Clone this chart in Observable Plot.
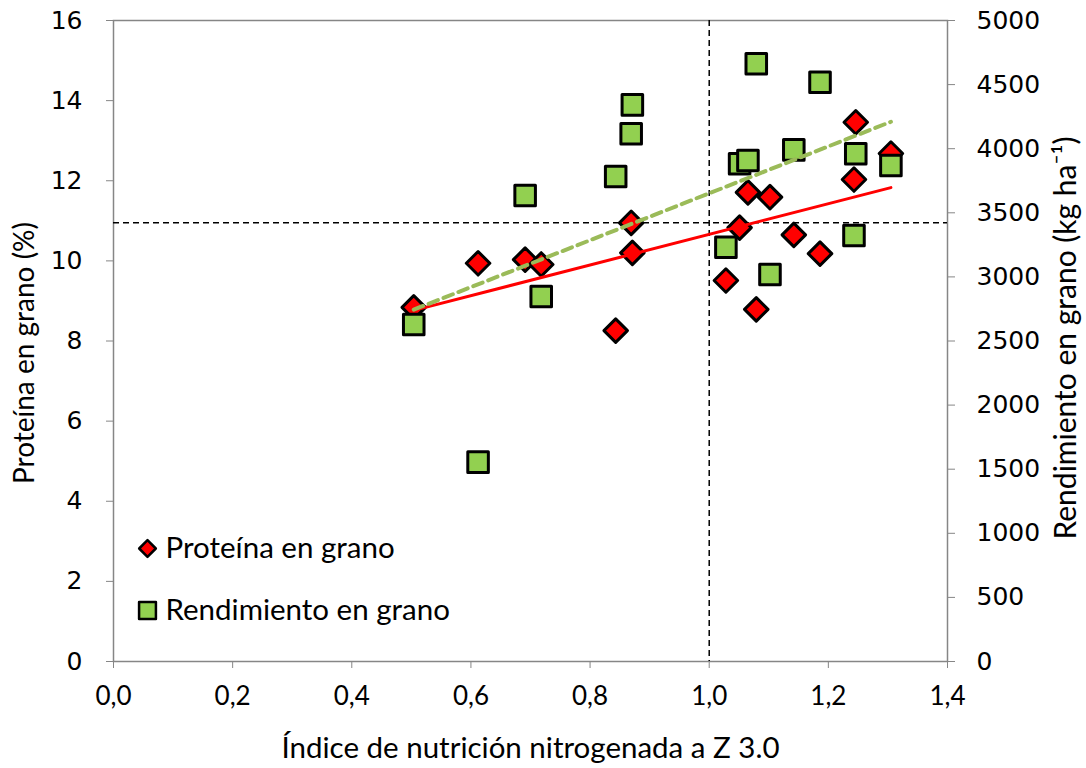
<!DOCTYPE html>
<html><head><meta charset="utf-8">
<script src="https://cdn.jsdelivr.net/npm/d3@7"></script>
<script src="https://cdn.jsdelivr.net/npm/@observablehq/plot@0.6"></script>
<style>body{margin:0;background:#fff} svg{display:block}</style>
</head><body><div id="chart"></div>
<script>
// Data
const nni = [0.504, 0.612, 0.691, 0.718, 0.843, 0.869, 0.871, 1.028, 1.051, 1.065, 1.079, 1.102, 1.142, 1.186, 1.243, 1.246, 1.305];
const protein = [8.84, 9.94, 10.03, 9.91, 8.26, 10.95, 10.20, 9.51, 10.83, 11.71, 8.79, 11.59, 10.65, 10.18, 12.03, 13.46, 12.68];
const yieldKg = [2629, 1555, 3635, 2847, 3783, 4116, 4342, 3232, 3882, 3908, 4662, 3019, 3991, 4519, 3323, 3960, 3869];
const xTicks = [0, 0.2, 0.4, 0.6, 0.8, 1.0, 1.2, 1.4];
const proteinTicks = [0, 2, 4, 6, 8, 10, 12, 14, 16];
const yieldTicks = [0, 500, 1000, 1500, 2000, 2500, 3000, 3500, 4000, 4500, 5000];
const nniThreshold = 1.0;
const proteinThreshold = 10.95;
const seriesNames = ["Proteína en grano", "Rendimiento en grano"];
const xTitle = "Índice de nutrición nitrogenada a Z 3.0";
const yLeftTitle = "Proteína en grano (%)";
const yRightTitle = "Rendimiento en grano (kg ha⁻¹)";

const proteinMax = 16, yieldMax = 5000;
const k = proteinMax / yieldMax; // maps yield onto the left scale
const rows = nni.map((x, i) => ({x, protein: protein[i], yieldScaled: yieldKg[i] * k}));
const comma = v => d3.format(".1f")(v).replace(".", ",");

const RED = "#FF0000", GREEN = "#92D050", TREND_GREEN = "#9BBB59", AXIS = "#868686";

const chart = Plot.plot({
  width: 1086,
  height: 768,
  marginLeft: 113,
  marginRight: 139,
  marginTop: 20,
  marginBottom: 107,
  style: {fontFamily: "Lato, sans-serif", background: "#fff", color: "#000"},
  x: {domain: [0, 1.4]},
  y: {domain: [0, proteinMax]},
  marks: [
    Plot.frame({stroke: AXIS, strokeWidth: 1.5}),
    Plot.ruleY([proteinThreshold], {stroke: "#000", strokeWidth: 1.5, strokeDasharray: "6,4"}),
    Plot.ruleX([nniThreshold], {stroke: "#000", strokeWidth: 1.5, strokeDasharray: "6,4"}),
    Plot.dot(rows, {x: "x", y: "protein", symbol: "diamond2", r: 10.6, fill: RED, stroke: "#000", strokeWidth: 3, strokeLinejoin: "round"}),
    Plot.dot(rows, {x: "x", y: "yieldScaled", symbol: "square", r: 11.6, fill: GREEN, stroke: "#000", strokeWidth: 3, strokeLinejoin: "round"}),
    Plot.linearRegressionY(rows, {x: "x", y: "protein", stroke: RED, strokeWidth: 3, ci: 0}),
    Plot.linearRegressionY(rows, {x: "x", y: "yieldScaled", stroke: TREND_GREEN, strokeWidth: 4, strokeDasharray: "10,6", ci: 0}),
    Plot.axisX(xTicks, {tickFormat: comma, tickSize: 7, tickPadding: 18, stroke: AXIS, fill: "#000", fontSize: 26, label: null}),
    Plot.axisY(proteinTicks, {anchor: "left", tickSize: 7, tickPadding: 24, stroke: AXIS, fill: "#000", fontSize: 25, fontFamily: "DejaVu Sans", label: null}),
    Plot.axisY(yieldTicks.map(v => v * k), {anchor: "right", tickFormat: v => String(Math.round(v / k)), tickSize: 7, tickPadding: 22, stroke: AXIS, fill: "#000", fontSize: 25, fontFamily: "DejaVu Sans", label: null}),
    Plot.text([xTitle], {frameAnchor: "bottom", dx: 0, dy: 87, textAnchor: "middle", lineAnchor: "middle", fontSize: 29.5}),
    Plot.text([yLeftTitle], {frameAnchor: "left", rotate: -90, dx: -88, dy: 12, textAnchor: "middle", lineAnchor: "middle", fontSize: 28}),
    Plot.text([yRightTitle], {frameAnchor: "right", rotate: -90, dx: 119, dy: -3, textAnchor: "middle", lineAnchor: "middle", fontSize: 30}),
    Plot.dot([0], {frameAnchor: "bottom-left", dx: 34, dy: -113, symbol: "diamond2", r: 7.5, fill: RED, stroke: "#000", strokeWidth: 2.5, strokeLinejoin: "round"}),
    Plot.dot([0], {frameAnchor: "bottom-left", dx: 34, dy: -51, symbol: "square", r: 9.5, fill: GREEN, stroke: "#000", strokeWidth: 2.5, strokeLinejoin: "round"}),
    Plot.text([seriesNames[0]], {frameAnchor: "bottom-left", dx: 52, dy: -113, textAnchor: "start", lineAnchor: "middle", fontSize: 29.5}),
    Plot.text([seriesNames[1]], {frameAnchor: "bottom-left", dx: 52, dy: -51, textAnchor: "start", lineAnchor: "middle", fontSize: 29.5})
  ]
});
document.getElementById("chart").appendChild(chart);
</script>
</body></html>
